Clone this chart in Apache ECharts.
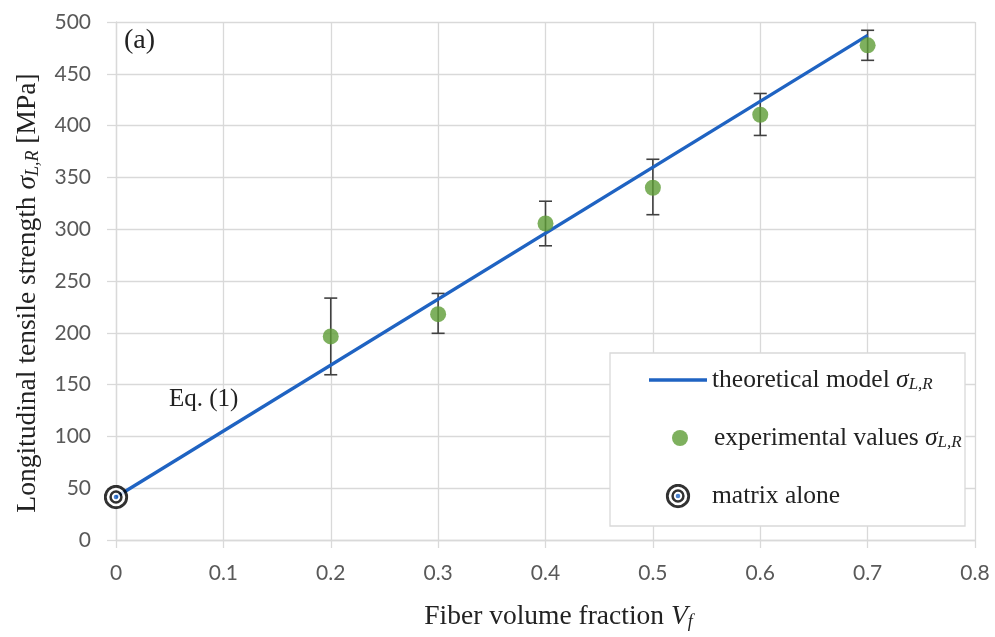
<!DOCTYPE html>
<html>
<head>
<meta charset="utf-8">
<script src="https://cdn.jsdelivr.net/npm/echarts@6/dist/echarts.min.js"></script>
<style>html,body{margin:0;padding:0;background:#fff;}#c{width:995px;height:637px;}</style>
</head>
<body>
<div id="c"></div>
<script>
// ---- data ----
const modelVf = [0, 0.7];
const modelStrength = [41.5, 487];
const expVf = [0.2, 0.3, 0.4, 0.5, 0.6, 0.7];
const expMean = [196.5, 218, 305.5, 340, 410.5, 477.5];
const expLow = [159.5, 199.5, 284, 314, 390.5, 463];
const expHigh = [233.5, 238, 327, 367.5, 431, 492];
const matrixVf = [0];
const matrixStrength = [41.5];
const xTicks = {min: 0, max: 0.8, interval: 0.1};
const yTicks = {min: 0, max: 500, interval: 50};

const serif = '"Liberation Serif", "DejaVu Serif", serif';
const sans = 'Lato, "Open Sans", sans-serif';
const gridColor = '#d9d9d9';
const textColor = '#222';
const blue = '#1f63c2';

const ringSvg = '<svg xmlns="http://www.w3.org/2000/svg" width="48" height="48" viewBox="0 0 24 24">' +
  '<circle cx="12" cy="12" r="10.3" fill="#fff" stroke="#000" stroke-width="2.8"/>' +
  '<circle cx="12" cy="12" r="5.2" fill="none" stroke="#000" stroke-width="2.4"/>' +
  '<circle cx="12" cy="12" r="2.2" fill="#1f63c2"/></svg>';
const ringImg = 'image://data:image/svg+xml;charset=utf-8,' + encodeURIComponent(ringSvg);

const LF = 25.5;
const richLegend = {
  n: {fontFamily: serif, fontSize: LF, color: textColor},
  i: {fontFamily: serif, fontSize: LF, fontStyle: 'italic', color: textColor},
  sub: {fontFamily: serif, fontSize: 17, fontStyle: 'italic', color: textColor, padding: [10, 0, 0, 0]}
};
const AF = 27.5;
const richAxis = {
  i: {fontFamily: serif, fontSize: AF, fontStyle: 'italic', color: textColor},
  sub: {fontFamily: serif, fontSize: 18, fontStyle: 'italic', color: textColor, padding: [11, 0, 0, 0]}
};

const chart = echarts.init(document.getElementById('c'));
const legendBase = {
  orient: 'horizontal', padding: 0, itemWidth: 58,
  selectedMode: false,
  textStyle: {fontFamily: serif, fontSize: LF, color: textColor, rich: richLegend},
  formatter: function (name) {
    if (name === 'theoretical model') return '{n|theoretical model }{i|σ}{sub|L,R}';
    if (name === 'experimental values') return '{n|experimental values }{i|σ}{sub|L,R}';
    return '{n|' + name + '}';
  }
};

chart.setOption({
  animation: false,
  backgroundColor: '#fff',
  grid: {left: 116, right: 20, top: 22, bottom: 97},
  xAxis: {
    type: 'value', min: xTicks.min, max: xTicks.max, interval: xTicks.interval,
    axisLine: {show: true, lineStyle: {color: gridColor, width: 1.3}},
    axisTick: {show: true, length: 8, lineStyle: {color: gridColor, width: 1.3}},
    splitLine: {show: true, lineStyle: {color: gridColor, width: 1.3}},
    axisLabel: {margin: 23, fontFamily: sans, fontSize: 21, color: '#595959'},
    name: 'Fiber volume fraction {i|V}{sub|f}',
    nameLocation: 'middle', nameGap: 62,
    nameTextStyle: {fontFamily: serif, fontSize: AF, color: textColor, padding: [0, 0, 0, 26], rich: richAxis}
  },
  yAxis: {
    type: 'value', min: yTicks.min, max: yTicks.max, interval: yTicks.interval,
    axisLine: {show: true, lineStyle: {color: gridColor, width: 1.3}},
    axisTick: {show: true, length: 9, lineStyle: {color: gridColor, width: 1.3}},
    splitLine: {show: true, lineStyle: {color: gridColor, width: 1.3}},
    axisLabel: {margin: 25, fontFamily: sans, fontSize: 21, color: '#595959'},
    name: 'Longitudinal tensile strength {i|σ}{sub|L,R} [MPa]',
    nameLocation: 'middle', nameGap: 74, nameRotate: 90,
    nameTextStyle: {fontFamily: serif, fontSize: AF, color: textColor, padding: [0, 24, 0, 0], rich: richAxis}
  },
  legend: [
    Object.assign({}, legendBase, {left: 649, top: 367, itemHeight: 3.5,
      data: [{name: 'theoretical model', icon: 'rect', itemStyle: {color: blue}}]}),
    Object.assign({}, legendBase, {left: 672, top: 425, itemHeight: 16, data: ['experimental values']}),
    Object.assign({}, legendBase, {left: 649, top: 483, itemHeight: 25, data: ['matrix alone']})
  ],
  graphic: [
    {type: 'rect', z: 3, shape: {x: 610, y: 353, width: 355, height: 173},
     style: {fill: '#fff', stroke: gridColor, lineWidth: 1.3}},
    {type: 'text', z: 5, left: 124, top: 27,
     style: {text: '(a)', font: '28px "Liberation Serif", serif', fill: textColor}},
    {type: 'text', z: 5, left: 169, top: 387,
     style: {text: 'Eq. (1)', font: '25px "Liberation Serif", serif', fill: textColor}}
  ],
  series: [
    {
      name: 'matrix alone', type: 'scatter', symbol: ringImg, symbolSize: 25,
      data: matrixVf.map((v, i) => [v, matrixStrength[i]]), z: 2
    },
    {
      name: 'error', type: 'custom', z: 2,
      data: expVf.map((v, i) => [v, expLow[i], expHigh[i]]),
      renderItem: function (params, api) {
        const x = api.value(0);
        const lo = api.coord([x, api.value(1)]);
        const hi = api.coord([x, api.value(2)]);
        const w = 6.5;
        const st = {stroke: '#404040', lineWidth: 1.6};
        return {type: 'group', children: [
          {type: 'line', shape: {x1: lo[0], y1: lo[1], x2: hi[0], y2: hi[1]}, style: st},
          {type: 'line', shape: {x1: lo[0] - w, y1: lo[1], x2: lo[0] + w, y2: lo[1]}, style: st},
          {type: 'line', shape: {x1: hi[0] - w, y1: hi[1], x2: hi[0] + w, y2: hi[1]}, style: st}
        ]};
      }
    },
    {
      name: 'theoretical model', type: 'line', symbol: 'none', z: 2,
      lineStyle: {color: blue, width: 3.3},
      itemStyle: {color: blue},
      data: modelVf.map((v, i) => [v, modelStrength[i]])
    },
    {
      name: 'experimental values', type: 'scatter', symbol: 'circle', symbolSize: 16, z: 2,
      itemStyle: {color: '#5e9c36'},
      data: expVf.map((v, i) => [v, expMean[i]])
    }
  ]
});
</script>
</body>
</html>
